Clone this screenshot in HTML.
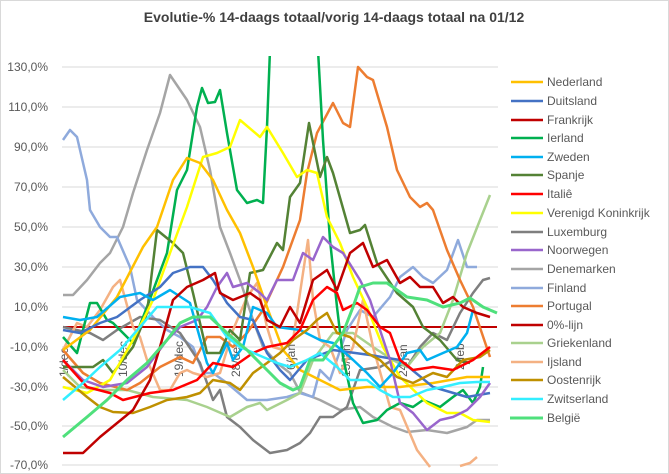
<!DOCTYPE html>
<html><head><meta charset="utf-8"><style>
body{margin:0;background:#fff}
svg{display:block;font-family:"Liberation Sans",sans-serif}
</style></head><body>
<svg width="669" height="474" viewBox="0 0 669 474">
<rect width="669" height="474" fill="#fff"/>
<rect x="0.5" y="0.5" width="668" height="473" fill="none" stroke="#d9d9d9"/>
<text x="334" y="22" text-anchor="middle" font-size="14" font-weight="bold" fill="#404040">Evolutie-% 14-daags totaal/vorig 14-daags totaal na 01/12</text>
<g stroke="#d9d9d9" stroke-width="1">
<line x1="62" x2="498" y1="67" y2="67"/><line x1="62" x2="498" y1="107" y2="107"/><line x1="62" x2="498" y1="147" y2="147"/><line x1="62" x2="498" y1="187" y2="187"/><line x1="62" x2="498" y1="227" y2="227"/><line x1="62" x2="498" y1="267" y2="267"/><line x1="62" x2="498" y1="307" y2="307"/><line x1="62" x2="498" y1="347" y2="347"/><line x1="62" x2="498" y1="387" y2="387"/><line x1="62" x2="498" y1="426" y2="426"/><line x1="62" x2="498" y1="465" y2="465"/>
</g>
<g font-size="12" fill="#595959" text-anchor="end">
<text x="48" y="71">130,0%</text><text x="48" y="111">110,0%</text><text x="48" y="151">90,0%</text><text x="48" y="191">70,0%</text><text x="48" y="231">50,0%</text><text x="48" y="271">30,0%</text><text x="48" y="311">10,0%</text><text x="48" y="351">-10,0%</text><text x="48" y="391">-30,0%</text><text x="48" y="430">-50,0%</text><text x="48" y="469">-70,0%</text>
</g>
<g font-size="12" fill="#595959">
<text transform="translate(68,377) rotate(-90)">1/dec</text>
<text transform="translate(127,377) rotate(-90)">10/dec</text>
<text transform="translate(183,377) rotate(-90)">19/dec</text>
<text transform="translate(240,377) rotate(-90)">28/dec</text>
<text transform="translate(295,370) rotate(-90)">6/jan</text>
<text transform="translate(350,377) rotate(-90)">15/jan</text>
<text transform="translate(407,377) rotate(-90)">24/jan</text>
<text transform="translate(464,370) rotate(-90)">2/feb</text>
</g>
<defs><clipPath id="c"><rect x="60" y="56" width="442" height="414"/></clipPath></defs>
<g clip-path="url(#c)" fill="none" stroke-width="2.5" stroke-linejoin="round">
<line x1="63" x2="497" y1="327" y2="327" stroke="#C00000" stroke-width="2"/>
<polyline stroke="#A5A5A5" points="63,295 73,295 87,280 100,263 110,253 123,227 133,193 147,150 160,113 170,75 187,100 200,127 210,170 220,227 230,253 240,280 253,320 263,347 277,363 290,373 300,392 320,400 340,410 360,407 373,417 393,427 407,432 427,430 447,433 467,427 477,420 490,420"/>
<polyline stroke="#8FAADC" points="63,140 70,130 77,137 87,180 90,210 100,227 110,237 117,237 130,267 137,300 153,317 167,330 180,337 193,347 203,373 213,373 227,383 247,400 267,400 287,397 300,393 313,397 320,370 330,380 347,330 360,310 373,317 390,297 400,277 413,267 423,277 433,283 447,270 458,240 467,267 477,267"/>
<polyline stroke="#7F7F7F" points="63,327 90,333 103,340 117,330 140,317 160,320 180,333 200,363 213,400 220,390 227,417 240,427 253,440 270,453 287,450 300,443 310,433 320,417 333,417 347,407 360,370 380,367 393,360 407,367 420,347 433,333 447,340 460,313 473,293 483,280 490,278"/>
<polyline stroke="#A9D18E" points="63,370 80,387 100,390 127,390 153,397 187,400 207,407 230,417 247,407 260,403 267,410 287,400 300,393 313,360 333,333 353,333 373,347 393,360 407,367 423,347 440,333 453,300 467,253 480,220 490,195"/>
<polyline stroke="#F4B183" points="63,350 77,323 87,327 100,310 113,287 120,280 133,327 140,337 147,360 160,390 170,390 180,373 187,370 193,373 207,377 220,373 233,330 247,297 257,283 267,327 273,347 283,350 293,340 303,273 308,240 313,300 320,340 330,347 340,373 353,347 363,300 373,347 390,407 400,410 417,450 430,467"/>
<polyline stroke="#F4B183" points="460,466 470,463 477,457"/>
<polyline stroke="#ED7D31" points="63,350 83,373 100,383 127,390 140,383 160,367 180,357 193,363 207,337 220,337 233,347 247,333 263,310 283,267 300,220 307,173 317,133 333,103 343,123 350,127 358,67 367,77 373,80 387,127 397,170 410,197 420,207 427,203 433,210 447,250 460,280 473,307 490,357"/>
<polyline stroke="#00B050" points="63,337 77,353 90,303 97,303 107,320 113,323 133,343 147,307 167,253 177,190 187,170 197,107 202,88 208,103 215,102 220,90 227,133 237,190 247,203 257,200 263,203 267,127 270,50"/>
<polyline stroke="#00B050" points="318,50 323,140 330,240 337,307 343,357 353,403 363,423 377,420 387,410 400,403 413,407 423,400 440,407 453,397 463,390 473,403 480,387 483,367"/>
<polyline stroke="#548235" points="63,367 93,367 103,360 113,373 133,347 147,313 157,230 173,243 183,253 193,293 207,353 220,353 230,330 240,340 250,273 263,270 277,243 283,250 290,197 300,183 309,123 320,177 327,157 333,173 350,233 360,230 365,225 377,263 397,293 413,307 423,327 440,340 457,360 470,363"/>
<polyline stroke="#FFFF00" points="63,387 87,393 110,380 133,340 153,300 170,253 187,207 203,157 217,153 230,147 240,120 260,137 267,127 283,153 297,177 307,170 317,173 327,217 340,243 353,277 367,307 383,347 400,377 427,403 447,413 460,413 473,420 490,422"/>
<polyline stroke="#FFC000" points="63,350 90,330 117,297 143,247 157,227 173,180 187,158 200,163 213,180 227,210 240,233 253,267 267,307 283,350 300,370 340,390 367,387 400,387 433,383 467,377 490,377"/>
<polyline stroke="#4472C4" points="63,330 80,333 100,323 117,317 140,300 160,287 173,273 190,267 203,267 213,280 227,303 240,317 253,320 267,353 280,370 290,380 307,360 333,350 370,355 400,360 433,387 467,397 490,393"/>
<polyline stroke="#9966CC" points="63,360 83,380 103,387 127,383 147,367 167,340 180,327 197,320 207,307 217,287 227,273 233,287 247,283 260,293 267,300 277,280 293,280 303,253 313,260 323,237 333,247 343,253 360,280 370,300 380,330 390,360 400,403 413,413 427,430 440,420 453,417 467,410 480,397 490,383"/>
<polyline stroke="#00B0F0" points="63,317 80,320 97,317 120,297 140,293 153,300 170,290 190,303 207,363 213,373 227,343 233,360 243,347 253,307 267,313 277,327 300,330 320,340 333,343 350,357 367,373 380,387 393,373 407,353 420,350 427,360 443,353 457,347 467,333 473,310"/>
<polyline stroke="#BF9000" points="63,377 87,397 100,407 113,412 133,413 150,407 167,400 187,397 200,393 213,380 230,383 240,390 253,373 267,363 280,353 293,340 307,330 317,320 327,313 337,333 350,337 367,353 380,360 397,377 413,383 433,373 447,377 463,360 480,357 490,350"/>
<polyline stroke="#FF0000" points="63,360 87,387 110,393 123,400 150,393 173,390 197,380 213,363 233,367 253,353 267,347 287,343 300,330 313,300 327,287 337,293 343,310 357,303 367,310 380,327 390,333 400,360 413,370 433,367 453,370 473,360 490,347"/>
<polyline stroke="#C00000" points="63,453 83,453 100,437 133,410 150,380 160,347 173,300 187,287 203,280 215,273 220,293 233,300 250,293 260,300 267,320 280,327 290,307 300,323 313,280 327,270 337,290 350,253 363,243 373,267 387,260 400,283 410,277 420,287 433,287 443,303 453,297 463,307 477,313 490,317"/>
<polyline stroke="#33EEFF" points="63,400 83,383 100,367 120,350 140,327 157,307 173,307 190,307 210,313 227,337 240,347 263,357 277,363 290,367 307,360 320,353 337,367 350,380 367,380 380,390 393,397 410,397 427,390 443,387 460,383 477,382 490,382"/>
<polyline stroke="#4FE07C" stroke-width="3" points="63,437 87,417 107,400 127,380 147,363 167,340 180,323 193,317 210,317 227,333 247,350 267,370 280,383 293,390 300,387 310,360 323,360 343,333 353,307 360,287 373,283 387,283 407,297 427,300 443,307 460,303 470,298 483,307 497,313"/>
</g>
<g stroke-width="2.5">
<line x1="511" x2="543" y1="82" y2="82" stroke="#FFC000"/>
<line x1="511" x2="543" y1="101" y2="101" stroke="#4472C4"/>
<line x1="511" x2="543" y1="120" y2="120" stroke="#C00000"/>
<line x1="511" x2="543" y1="138" y2="138" stroke="#00B050"/>
<line x1="511" x2="543" y1="157" y2="157" stroke="#00B0F0"/>
<line x1="511" x2="543" y1="175" y2="175" stroke="#548235"/>
<line x1="511" x2="543" y1="194" y2="194" stroke="#FF0000"/>
<line x1="511" x2="543" y1="213" y2="213" stroke="#FFFF00"/>
<line x1="511" x2="543" y1="232" y2="232" stroke="#7F7F7F"/>
<line x1="511" x2="543" y1="250" y2="250" stroke="#9966CC"/>
<line x1="511" x2="543" y1="269" y2="269" stroke="#A5A5A5"/>
<line x1="511" x2="543" y1="288" y2="288" stroke="#8FAADC"/>
<line x1="511" x2="543" y1="306" y2="306" stroke="#ED7D31"/>
<line x1="511" x2="543" y1="325" y2="325" stroke="#C00000"/>
<line x1="511" x2="543" y1="343" y2="343" stroke="#A9D18E"/>
<line x1="511" x2="543" y1="362" y2="362" stroke="#F4B183"/>
<line x1="511" x2="543" y1="380" y2="380" stroke="#BF9000"/>
<line x1="511" x2="543" y1="399" y2="399" stroke="#33EEFF"/>
<line x1="510" x2="543" y1="418" y2="418" stroke="#4FE07C" stroke-width="3"/>
</g>
<g font-size="12" fill="#595959">
<text x="547" y="86">Nederland</text><text x="547" y="105">Duitsland</text><text x="547" y="124">Frankrijk</text><text x="547" y="142">Ierland</text><text x="547" y="161">Zweden</text><text x="547" y="179">Spanje</text><text x="547" y="198">Italiê</text><text x="547" y="217">Verenigd Koninkrijk</text><text x="547" y="236">Luxemburg</text><text x="547" y="254">Noorwegen</text><text x="547" y="273">Denemarken</text><text x="547" y="292">Finland</text><text x="547" y="310">Portugal</text><text x="547" y="329">0%-lijn</text><text x="547" y="347">Griekenland</text><text x="547" y="366">Ijsland</text><text x="547" y="384">Oostenrijk</text><text x="547" y="403">Zwitserland</text><text x="547" y="422">België</text>
</g>
</svg>
</body></html>
